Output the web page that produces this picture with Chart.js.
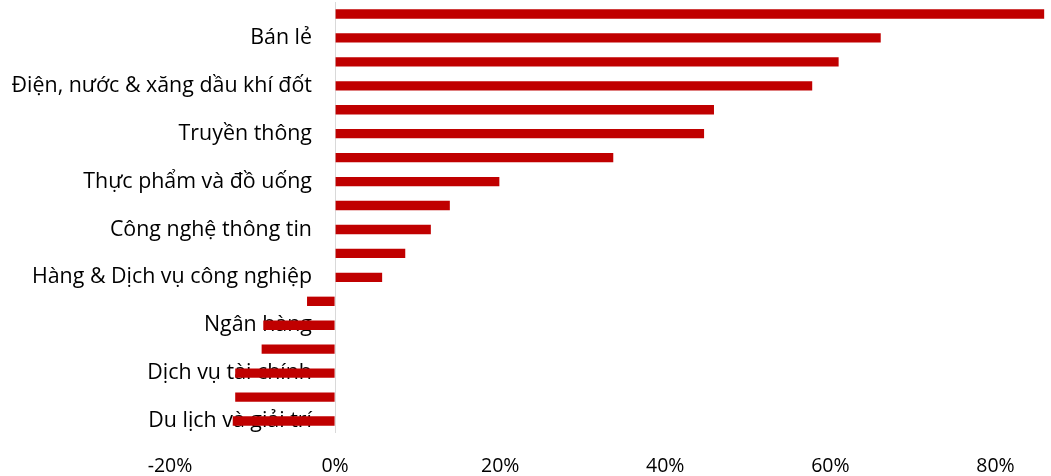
<!DOCTYPE html>
<html>
<head>
<meta charset="utf-8">
<script src="https://cdn.jsdelivr.net/npm/chart.js@4"></script>
<style>
    html, body { margin: 0; padding: 0; background: #fff; }
    #wrap { width: 1051px; height: 476px; }
</style>
</head>
<body>
<div id="wrap"><canvas id="sectorChart"></canvas></div>
<script>
    // Sectors, top to bottom (only every other name is shown on the axis)
    const sectors = [
        "Bất động sản",
        "Bán lẻ",
        "Hóa chất",
        "Điện, nước & xăng dầu khí đốt",
        "Tài nguyên cơ bản",
        "Truyền thông",
        "Xây dựng và Vật liệu",
        "Thực phẩm và đồ uống",
        "Ô tô và phụ tùng",
        "Công nghệ thông tin",
        "Dầu khí",
        "Hàng & Dịch vụ công nghiệp",
        "Bảo hiểm",
        "Ngân hàng",
        "Hàng cá nhân & Gia dụng",
        "Dịch vụ tài chính",
        "Y tế",
        "Du lịch và giải trí"
    ];

    // Change in percent
    const changes = [85.9, 66.1, 61.0, 57.8, 45.9, 44.7, 33.7, 19.9, 13.9, 11.6, 8.5, 5.7,
                     -3.4, -8.7, -8.9, -12.1, -12.1, -12.4];

    const xTicks = [-20, 0, 20, 40, 60, 80];

    const fontFamily = "'Open Sans', 'Noto Sans', sans-serif";

    const ctx = document.getElementById("sectorChart").getContext("2d");

    new Chart(ctx, {
        type: "bar",
        data: {
            labels: sectors,
            datasets: [
                {
                    data: changes,
                    backgroundColor: "#C00000",
                    borderWidth: 0,
                    categoryPercentage: 1,
                    barPercentage: 0.39,
                },
            ],
        },
        options: {
            indexAxis: "y",
            responsive: true,
            maintainAspectRatio: false,
            animation: false,
            layout: {
                padding: { left: 170, right: 6, top: 2, bottom: 0 },
            },
            plugins: {
                legend: { display: false },
                title: { display: false },
                tooltip: { enabled: false },
            },
            scales: {
                x: {
                    min: -20,
                    max: 86,
                    afterBuildTicks: (scale) => {
                        scale.ticks = xTicks.map((v) => ({ value: v }));
                    },
                    afterFit: (scale) => {
                        scale.height = 43;
                    },
                    border: { display: false },
                    grid: {
                        drawTicks: false,
                        lineWidth: 1,
                        color: (c) => (c.tick && c.tick.value === 0 ? "#d9d9d9" : "rgba(0,0,0,0)"),
                    },
                    ticks: {
                        color: "#000",
                        padding: 22,
                        maxRotation: 0,
                        font: { family: fontFamily, size: 19.5 },
                        callback: (v) => v + "%",
                    },
                },
                y: {
                    // labels end a little left of the zero line
                    position: { x: -2.8 },
                    z: 1,
                    afterFit: (scale) => {
                        scale.width = 0;
                        scale.paddingTop = 0;
                        scale.paddingBottom = 0;
                    },
                    border: { display: false },
                    grid: { display: false, drawTicks: false },
                    ticks: {
                        autoSkip: false,
                        color: "#000",
                        padding: 0,
                        font: { family: fontFamily, size: 21.4 },
                        callback: function (v, i) {
                            return i % 2 === 1 ? this.getLabelForValue(v) : "";
                        },
                    },
                },
            },
        },
    });
</script>
</body>
</html>
